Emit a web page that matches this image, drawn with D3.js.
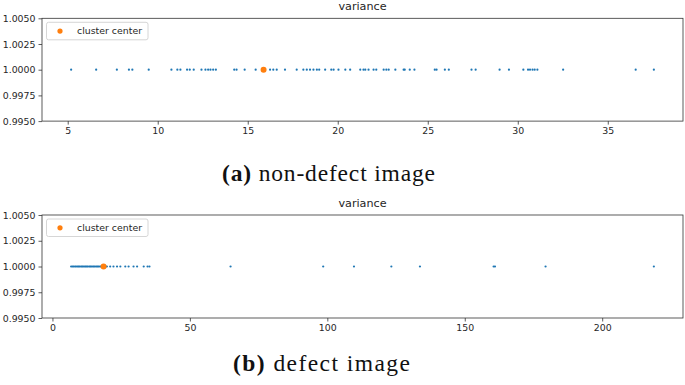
<!DOCTYPE html>
<html>
<head>
<meta charset="utf-8">
<script src="https://cdn.jsdelivr.net/npm/d3@7"></script>
<style>
  body { margin: 0; background: #fff; }
  svg text { font-family: "DejaVu Sans", sans-serif; fill: #262626; }
  .caption { font-family: "Liberation Serif", serif; fill: #111; }
</style>
</head>
<body>
<svg id="chart" width="685" height="385"></svg>
<script>
// values
var nonDefectVariance = [5.19, 6.58, 7.73, 8.40, 8.59, 9.50, 10.76, 11.09, 11.26, 11.63, 11.78, 12.0,
  12.43, 12.65, 12.80, 12.93, 13.08, 13.23, 14.25, 14.38, 14.83, 15.44, 16.24, 16.42, 16.61,
  17.07, 17.72, 18.09, 18.28, 18.46, 18.65, 18.84, 18.97, 19.30, 19.64, 19.77, 20.04, 20.42,
  20.69, 21.25, 21.43, 21.53, 21.71, 21.99, 22.14, 22.55, 22.70, 22.83, 23.20, 23.66, 23.72,
  24.0, 24.26, 25.39, 25.49, 25.95, 26.17, 27.43, 27.66, 28.99, 29.51, 30.31, 30.57, 30.68,
  30.82, 30.94, 31.09, 32.52, 36.55, 37.56];
var nonDefectCenter = [15.88];

var defectVariance = [6.8, 7.3, 7.7, 8.2, 8.6, 9.1, 9.5, 9.9, 10.4, 10.8, 11.2, 11.7, 12.1, 12.5,
  12.9, 13.4, 13.8, 14.2, 14.7, 15.1, 15.5, 16.0, 16.4, 16.8, 17.3, 17.7, 18.1, 19.0, 19.4,
  19.8, 21.0, 22.2, 23.5, 24.7, 26.5, 27.7, 29.5, 30.8, 33.2, 34.6, 35.3, 64.8, 98.5, 109.7,
  123.3, 133.7, 160.5, 161.0, 179.4, 218.8];
var defectCenter = [18.6];

var yTicks = [0.995, 0.9975, 1.0, 1.0025, 1.005];
var nonDefectXTicks = [5, 10, 15, 20, 25, 30, 35];
var defectXTicks = [0, 50, 100, 150, 200];

var svg = d3.select('#chart');

var margin = { left: 42, right: 2 };
var width = 685 - margin.left - margin.right;

function drawPanel(top, height, values, center, xTicks) {
  // matplotlib style 5% padding around the data
  var all = values.concat(center);
  var lo = d3.min(all), hi = d3.max(all);
  var pad = (hi - lo) * 0.05;
  var x = d3.scaleLinear().domain([lo - pad, hi + pad]).range([0, width]);
  var y = d3.scaleLinear().domain([0.995, 1.005]).range([height, 0]);

  var g = svg.append('g').attr('transform', 'translate(' + margin.left + ',' + top + ')');

  var xAxis = g.append('g')
    .attr('transform', 'translate(0,' + height + ')')
    .call(d3.axisBottom(x).tickValues(xTicks).tickSize(3.5).tickPadding(3).tickFormat(d3.format('d')));
  var yAxis = g.append('g')
    .call(d3.axisLeft(y).tickValues(yTicks).tickSize(3.5).tickPadding(3).tickFormat(d3.format('.4f')));
  [xAxis, yAxis].forEach(function(a) {
    a.select('.domain').remove();
    a.selectAll('.tick line').attr('stroke', '#333').attr('stroke-width', 0.8);
    a.selectAll('.tick text').attr('font-size', '9.4px').style('font-family', '"DejaVu Sans", sans-serif').attr('fill', '#262626');
  });

  g.append('rect')
    .attr('width', width).attr('height', height)
    .attr('fill', 'none').attr('stroke', '#333').attr('stroke-width', 0.8);

  g.append('text')
    .attr('x', width / 2).attr('y', -8)
    .attr('text-anchor', 'middle')
    .attr('font-size', '11.2px')
    .text('variance');

  g.selectAll('.pt').data(values).enter().append('circle')
    .attr('class', 'pt')
    .attr('cx', function(d) { return x(d); })
    .attr('cy', y(1.0))
    .attr('r', 1.1)
    .attr('fill', '#1f77b4');

  g.selectAll('.center').data(center).enter().append('circle')
    .attr('class', 'center')
    .attr('cx', function(d) { return x(d); })
    .attr('cy', y(1.0))
    .attr('r', 3)
    .attr('fill', '#ff7f0e');

  // legend
  var lg = g.append('g').attr('transform', 'translate(4.5,4)');
  lg.append('rect')
    .attr('width', 101.5).attr('height', 17.5)
    .attr('rx', 2)
    .attr('fill', '#fff').attr('fill-opacity', 0.8)
    .attr('stroke', '#cccccc').attr('stroke-width', 0.8);
  lg.append('circle').attr('cx', 13.5).attr('cy', 8.8).attr('r', 2.6).attr('fill', '#ff7f0e');
  lg.append('text').attr('x', 30.5).attr('y', 12.2).attr('font-size', '9.4px').text('cluster center');
}

drawPanel(18.3, 102.8, nonDefectVariance, nonDefectCenter, nonDefectXTicks);
drawPanel(215, 103, defectVariance, defectCenter, defectXTicks);

// captions set in a wide serif like the LaTeX originals
function caption(label, rest, left, textWidth, baseline) {
  var t = svg.append('text')
    .attr('class', 'caption')
    .attr('x', left).attr('y', baseline)
    .attr('font-size', '23.5px')
    .attr('textLength', textWidth)
    .attr('lengthAdjust', 'spacing');
  t.append('tspan').attr('font-weight', 'bold').text(label);
  t.append('tspan').text('\u00a0' + rest);
}

caption('(a)', 'non-defect image', 222, 213, 181);
caption('(b)', 'defect image', 233, 177, 371);
</script>
</body>
</html>
